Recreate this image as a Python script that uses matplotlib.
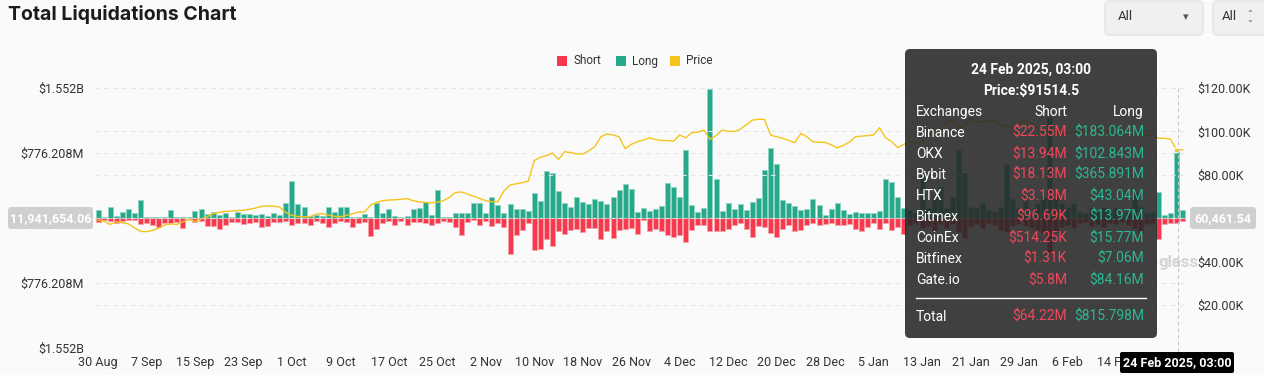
"""Total liquidations chart: daily long/short liquidations with BTC price."""

import matplotlib

matplotlib.use("Agg")

import matplotlib.pyplot as plt
from matplotlib.patches import FancyBboxPatch, Rectangle
import numpy as np
import pandas as pd

# ---- data ----
dates = pd.date_range("2024-08-30", periods=180, freq="D")

# long liquidations, $M (drawn upwards)
long_m = [
    96, 8, 128, 24, 68, 107, 63, 211, 8, 8,
    16, 16, 96, 16, 8, 16, 87, 104, 48, 68,
    36, 63, 8, 75, 48, 44, 39, 48, 24, 56,
    36, 183, 438, 167, 128, 24, 32, 24, 128, 75,
    128, 135, 16, 16, 48, 16, 183, 63, 111, 24,
    12, 24, 111, 116, 191, 32, 334, 16, 8, 56,
    56, 56, 183, 176, 56, 247, 152, 56, 167, 104,
    111, 80, 302, 207, 565, 534, 326, 176, 135, 247,
    191, 167, 230, 199, 167, 247, 334, 406, 343, 72,
    119, 87, 111, 143, 421, 374, 247, 812, 152, 72,
    119, 1540, 469, 87, 176, 104, 167, 96, 191, 239,
    573, 836, 645, 215, 176, 143, 96, 104, 223, 152,
    39, 111, 176, 96, 48, 72, 56, 63, 63, 80,
    469, 430, 254, 119, 96, 56, 513, 116, 251, 370,
    116, 251, 812, 534, 131, 116, 176, 96, 72, 131,
    645, 223, 116, 251, 56, 176, 251, 1206, 239, 176,
    131, 176, 72, 56, 116, 96, 131, 96, 116, 56,
    72, 310, 131, 56, 72, 310, 36, 63, 815.8, 96,
]

# short liquidations, $M (drawn downwards)
short_m = [
    44, 24, 36, 56, 36, 24, 24, 72, 63, 84,
    104, 63, 56, 48, 116, 16, 44, 36, 92, 92,
    128, 84, 51, 44, 72, 63, 48, 104, 92, 44,
    51, 39, 87, 63, 56, 87, 36, 63, 111, 56,
    39, 51, 104, 63, 48, 215, 135, 63, 39, 80,
    36, 87, 48, 44, 63, 80, 63, 39, 48, 104,
    199, 48, 24, 87, 39, 96, 56, 104, 430, 207,
    143, 56, 382, 367, 254, 334, 152, 191, 143, 128,
    167, 119, 119, 254, 152, 239, 143, 135, 119, 191,
    24, 159, 128, 152, 207, 230, 199, 287, 143, 87,
    80, 159, 159, 159, 128, 87, 56, 128, 230, 96,
    104, 176, 230, 128, 87, 152, 143, 87, 56, 87,
    72, 56, 87, 87, 72, 128, 152, 104, 56, 135,
    63, 143, 111, 191, 84, 60, 119, 96, 143, 72,
    119, 72, 167, 239, 96, 72, 119, 60, 84, 143,
    167, 96, 72, 96, 119, 143, 179, 418, 167, 107,
    84, 119, 60, 48, 96, 72, 107, 60, 72, 48,
    84, 119, 179, 72, 60, 251, 72, 63, 64.22, 32,
]

# BTC price, $K
price_k = [
    59.0, 58.6, 57.0, 58.2, 57.8, 57.3, 55.5, 53.8, 53.7, 54.3,
    55.3, 56.8, 57.3, 57.0, 58.2, 59.3, 58.4, 59.5, 60.6, 62.0,
    62.6, 63.0, 63.2, 63.4, 63.6, 64.0, 64.6, 65.4, 65.6, 65.5,
    65.0, 62.5, 61.2, 60.7, 60.5, 60.6, 61.8, 62.0, 61.4, 60.8,
    60.6, 61.2, 62.0, 62.8, 62.8, 66.0, 67.2, 68.0, 68.3, 68.4,
    68.6, 69.0, 68.0, 67.4, 67.2, 67.0, 67.3, 68.0, 69.5, 71.8,
    72.0, 71.0, 70.0, 69.0, 68.0, 67.5, 67.6, 72.5, 75.2, 75.8,
    76.3, 77.0, 86.5, 88.0, 88.8, 90.0, 87.0, 90.6, 90.2, 89.6,
    89.5, 91.0, 93.0, 97.5, 98.8, 98.3, 97.5, 92.0, 94.0, 95.2,
    96.0, 97.0, 96.2, 95.8, 95.7, 95.5, 98.3, 97.0, 99.4, 99.6,
    100.6, 96.3, 98.0, 100.6, 100.0, 99.9, 101.0, 103.0, 105.2, 105.6,
    105.5, 98.3, 97.5, 96.8, 95.8, 94.8, 99.0, 97.5, 95.2, 95.0,
    94.9, 93.8, 92.4, 93.5, 95.0, 97.5, 97.8, 98.0, 98.3, 101.7,
    97.0, 95.2, 92.5, 94.0, 95.5, 94.8, 95.0, 97.5, 100.5, 100.0,
    104.3, 104.8, 101.5, 102.5, 106.0, 104.2, 104.5, 105.0, 104.5, 103.0,
    102.5, 101.8, 104.0, 105.0, 104.0, 101.5, 99.0, 101.5, 99.5, 98.8,
    99.0, 99.5, 100.0, 99.8, 100.6, 99.5, 100.2, 99.8, 100.5, 100.3,
    99.6, 99.0, 98.5, 97.8, 98.5, 96.8, 96.8, 96.4, 91.5, 91.5,
]

# tooltip contents for 24 Feb 2025
exchanges = ["Binance", "OKX", "Bybit", "HTX", "Bitmex", "CoinEx", "Bitfinex", "Gate.io"]
ex_short = ["$22.55M", "$13.94M", "$18.13M", "$3.18M", "$96.69K", "$514.25K", "$1.31K", "$5.8M"]
ex_long = ["$183.064M", "$102.843M", "$365.891M", "$43.04M", "$13.97M", "$15.77M", "$7.06M", "$84.16M"]

left_ticks = [-1552.0, -776.208, 0.0, 776.208, 1552.0]
left_labels = ["$1.552B", "$776.208M", "", "$776.208M", "$1.552B"]
right_ticks = [20, 40, 60, 80, 100, 120]
right_labels = ["$20.00K", "$40.00K", "", "$80.00K", "$100.00K", "$120.00K"]

RED = "#f6394c"
RED_EDGE = "#f5a3ab"
TEAL = "#26a98b"
TEAL_EDGE = "#8fd4c4"
GOLD = "#f6c41d"
BG = "#fafafa"
GRID = "#e6e6e6"
INK = "#333333"

plt.rcParams.update({"font.family": ["Roboto", "DejaVu Sans"], "font.size": 9})

W, H = 1264, 375
fig = plt.figure(figsize=(W / 100, H / 100), dpi=100, facecolor=BG)

# main axes: x 95..1188 px, y 88..348 px
ax = fig.add_axes([95 / W, 1 - 348 / H, (1188 - 95) / W, (348 - 88) / H])
ax.set_facecolor(BG)
x = np.arange(len(dates))
ax.bar(x, long_m, width=0.82, color=TEAL, edgecolor=TEAL_EDGE, linewidth=0.6, zorder=3)
ax.bar(x, -np.array(short_m), width=0.82, color=RED, edgecolor=RED_EDGE, linewidth=0.6, zorder=3)
ax.set_xlim(-0.5, 179.9)
ax.set_ylim(-1552, 1552)
for t in left_ticks:
    if t != 0:
        ax.axhline(t, color=GRID, lw=0.8, ls=(0, (4, 4)), zorder=1)
ax.set_yticks(left_ticks)
ax.set_yticklabels(left_labels, color=INK, fontsize=9)
tick_idx = np.arange(0, 169, 8)
ax.set_xticks(tick_idx)
ax.set_xticklabels([f"{dates[i].day} {dates[i].strftime('%b')}" for i in tick_idx],
                   color=INK, fontsize=9)
ax.tick_params(length=0, axis="y", pad=8)
ax.tick_params(length=0, axis="x", pad=6)
for s in ax.spines.values():
    s.set_visible(False)

ax2 = ax.twinx()
ax2.set_ylim(0, 120)
for t in right_ticks:
    ax2.axhline(t, color=GRID, lw=0.8, ls=(0, (4, 4)), zorder=1)
ax2.plot(x, price_k, color=GOLD, lw=1.0, zorder=4)
ax2.plot([178], [price_k[178]], marker="o", ms=3.5, color=GOLD, mec="white", mew=0.8, zorder=5)
ax2.set_yticks(right_ticks)
ax2.set_yticklabels(right_labels, color=INK, fontsize=9)
ax2.tick_params(length=0, pad=7)
for s in ax2.spines.values():
    s.set_visible(False)

# overlay in pixel coordinates for title, legend, crosshair and tooltip
ov = fig.add_axes([0, 0, 1, 1], zorder=10)
ov.set_xlim(0, W)
ov.set_ylim(H, 0)
ov.axis("off")
ov.patch.set_alpha(0)

ov.text(8, 15, "Total Liquidations Chart", fontsize=14, fontweight="bold",
        color="#1c1c1c", va="center", ha="left", family=["Inter", "DejaVu Sans"])

# dropdowns
for (bx, bw) in [(1105, 98), (1213, 60)]:
    ov.add_patch(FancyBboxPatch((bx, 1), bw, 34, boxstyle="round,pad=0,rounding_size=4",
                                fc="#f0f0f0", ec="#dddddd", lw=0.8))
ov.text(1118, 17, "All", fontsize=9.5, color=INK, va="center")
ov.text(1186, 17, "\u25BE", fontsize=8, color="#555555", va="center", ha="center")
ov.text(1222, 17, "All", fontsize=9.5, color=INK, va="center")
ov.text(1250, 17, "\u2303\n\u2304", fontsize=6, color="#555555", va="center", ha="center",
        linespacing=0.8)

# legend
for lx, col, lab in [(557, RED, "Short"), (616, TEAL, "Long"), (670, GOLD, "Price")]:
    ov.add_patch(Rectangle((lx, 56), 10, 10, fc=col, ec="none"))
    ov.text(lx + 16, 61, lab, fontsize=8.5, color=INK, va="center")

# watermark (mostly hidden behind the tooltip)
ov.text(1158, 263, "glass", fontsize=12, fontweight="bold", color="#d4d4d4",
        va="center", ha="left", zorder=1)

# crosshair
ov.plot([95, 1188], [218, 218], color="#c4c4c4", lw=0.8, ls=(0, (3, 3)), zorder=2)
ov.plot([1178, 1178], [88, 352], color="#c4c4c4", lw=0.8, ls=(0, (3, 3)), zorder=2)
ov.add_patch(FancyBboxPatch((8, 207), 85, 22, boxstyle="round,pad=0,rounding_size=3",
                            fc="#cfcfcf", ec="none", zorder=6))
ov.text(50.5, 218.5, "11,941,654.06", fontsize=9, fontweight="bold", color="white",
        ha="center", va="center", zorder=7)
ov.add_patch(FancyBboxPatch((1190, 207), 66, 22, boxstyle="round,pad=0,rounding_size=3",
                            fc="#cfcfcf", ec="none", zorder=6))
ov.text(1223, 218.5, "60,461.54", fontsize=9, fontweight="bold", color="white",
        ha="center", va="center", zorder=7)
ov.add_patch(FancyBboxPatch((1120, 352), 114, 21, boxstyle="round,pad=0,rounding_size=2",
                            fc="black", ec="none", zorder=6))
ov.text(1177, 362.5, "24 Feb 2025, 03:00", fontsize=9, fontweight="bold", color="white",
        ha="center", va="center", zorder=7)

# tooltip
ov.add_patch(FancyBboxPatch((905, 49), 252, 289, boxstyle="round,pad=0,rounding_size=5",
                            fc="#262626", ec="none", alpha=0.88, zorder=8))
TRED = "#f0485b"
TGRN = "#2cb795"
FS = 10
ov.text(1031, 70, "24 Feb 2025, 03:00", fontsize=FS, fontweight="bold", color="white",
        ha="center", va="center", zorder=9)
ov.text(1031, 91, "Price:$91514.5", fontsize=FS, fontweight="bold", color="white",
        ha="center", va="center", zorder=9)
ov.text(916, 112, "Exchanges", fontsize=FS, color="white", va="center", zorder=9)
ov.text(1067, 112, "Short", fontsize=FS, color="white", va="center", ha="right", zorder=9)
ov.text(1144, 112, "Long", fontsize=FS, color="white", va="center", ha="right", zorder=9)
for i, (name, s, l) in enumerate(zip(exchanges, ex_short, ex_long)):
    yy = 133 + 21 * i
    ov.text(916, yy, name, fontsize=FS, color="white", va="center", zorder=9)
    ov.text(1067, yy, s, fontsize=FS, color=TRED, va="center", ha="right", zorder=9)
    ov.text(1144, yy, l, fontsize=FS, color=TGRN, va="center", ha="right", zorder=9)
ov.plot([916, 1146], [298, 298], color="white", lw=1, zorder=9)
ov.text(916, 317, "Total", fontsize=FS, color="white", va="center", zorder=9)
ov.text(1067, 317, "$64.22M", fontsize=FS, color=TRED, va="center", ha="right", zorder=9)
ov.text(1144, 317, "$815.798M", fontsize=FS, color=TGRN, va="center", ha="right", zorder=9)

fig.savefig("out.png", dpi=100, facecolor=BG)
